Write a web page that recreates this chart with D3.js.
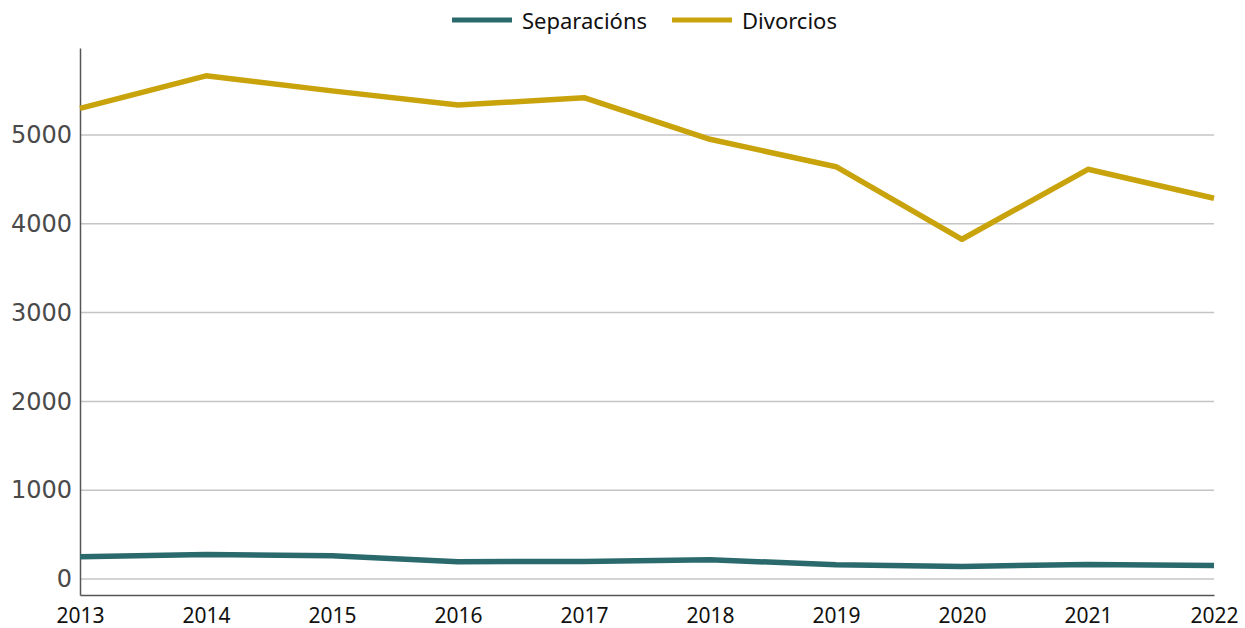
<!DOCTYPE html>
<html>
<head>
<meta charset="utf-8">
<script src="https://cdn.jsdelivr.net/npm/d3@7"></script>
<style>
  html, body { margin: 0; padding: 0; background: #fff; }
  svg { display: block; font-family: "Noto Sans", sans-serif; }
</style>
</head>
<body>
<div id="chart"></div>
<script>
var years = [2013, 2014, 2015, 2016, 2017, 2018, 2019, 2020, 2021, 2022];
var separacions = [251, 277, 262, 195, 198, 217, 161, 142, 164, 153];
var divorcios = [5300, 5667, 5497, 5337, 5420, 4952, 4643, 3826, 4614, 4288];
var yTicks = [0, 1000, 2000, 3000, 4000, 5000];
var seriesNames = ["Separacións", "Divorcios"];
var seriesColors = ["#2a6a6d", "#c9a30c"];

var width = 1245, height = 628;
var margin = {top: 48, right: 31, bottom: 33, left: 80};

var svg = d3.select("#chart").append("svg")
    .attr("width", width)
    .attr("height", height);

var x = d3.scalePoint().domain(years).range([margin.left, width - margin.right]);
var y = d3.scaleLinear().domain([-180, 5980]).range([height - margin.bottom, margin.top]);

// gridlines
svg.append("g").selectAll("line").data(yTicks).enter().append("line")
    .attr("x1", margin.left).attr("x2", width - margin.right)
    .attr("y1", function(d){ return y(d); })
    .attr("y2", function(d){ return y(d); })
    .style("stroke", "#c4c4c4")
    .style("stroke-width", 1.5);

// y axis
var yAxis = d3.axisLeft(y).tickValues(yTicks).tickSize(0).tickPadding(8).tickFormat(d3.format("d"));
var yg = svg.append("g").attr("transform", "translate(" + margin.left + ",0)").call(yAxis);
yg.select(".domain").style("stroke", "#555").style("stroke-width", 1.5);
yg.selectAll("text").style("font-size", "24px").style("fill", "#4a4a4a")
    .style("font-family", "'DejaVu Sans', sans-serif");

// x axis
var xAxis = d3.axisBottom(x).tickSize(0).tickPadding(13);
var xg = svg.append("g").attr("transform", "translate(0," + (height - margin.bottom) + ")").call(xAxis);
xg.select(".domain").style("stroke", "#555").style("stroke-width", 1.5);
xg.selectAll("text").style("font-size", "21px").style("fill", "#111")
    .style("font-family", "'Noto Sans', sans-serif");

// lines
var line = d3.line()
    .x(function(d, i){ return x(years[i]); })
    .y(function(d){ return y(d); });

[separacions, divorcios].forEach(function(values, i){
    svg.append("path").datum(values)
        .attr("d", line)
        .style("fill", "none")
        .style("stroke", seriesColors[i])
        .style("stroke-width", 5.5)
        .style("stroke-linejoin", "round");
});

// legend
var legendX = [452, 672];
var legend = svg.append("g");
seriesNames.forEach(function(name, i){
    legend.append("line")
        .attr("x1", legendX[i]).attr("x2", legendX[i] + 60)
        .attr("y1", 20).attr("y2", 20)
        .style("stroke", seriesColors[i])
        .style("stroke-width", 5);
    legend.append("text")
        .attr("x", legendX[i] + 70).attr("y", 29)
        .style("font-size", "22px")
        .style("fill", "#111")
        .text(name);
});
</script>
</body>
</html>
